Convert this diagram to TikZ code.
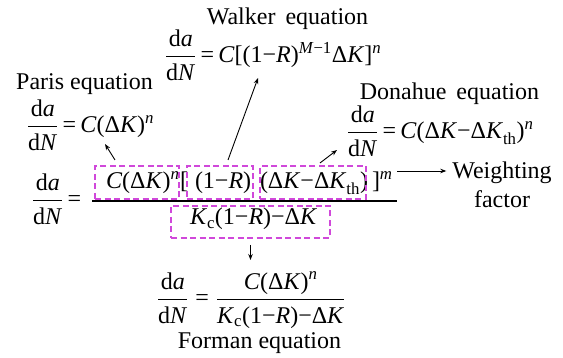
\documentclass[tikz,border=0pt]{standalone}
\usepackage{amsmath}
\usepackage{fontspec}
\setmainfont{Liberation Serif}
\usetikzlibrary{arrows.meta}
\definecolor{boxmag}{RGB}{208,72,218}
\newcommand{\ti}[1]{\textit{#1}}
\newcommand{\dadN}{\dfrac{\text{d\ti{a}}}{\text{d\ti{N}}}}
\newcommand{\eqs}{\mathrel{\text{=}}}
\begin{document}
\begin{tikzpicture}[x=1pt,y=-1pt,
 every node/.style={inner sep=0pt, outer sep=0pt, font=\fontsize{24}{29}\selectfont},
 txt/.style={anchor=base},
 eqn/.style={anchor=base west},
 dbox/.style={draw=boxmag, dash pattern=on 6pt off 3.5pt, line width=1.1pt, rectangle},
 arr/.style={-{Stealth[length=6pt,width=4.5pt]}, line width=0.9pt},
 ]
\useasboundingbox (0,0) rectangle (563,358);
% titles
\node[txt] (wt) at (287.5,25) {Walker\, equation};
\node[txt] (pt) at (84.5,90) {Paris equation};
\node[txt] (dt) at (449.5,100) {Donahue\, equation};
% side formulas
\node[eqn] (wf) at (165,63) {$\thickmuskip=3mu\dadN\eqs\text{\ti{C}[(1−\ti{R})}^{\text{\ti{M}−1}}\text{Δ\ti{K}]}^{\text{\ti{n}}}$};
\node[eqn] (pf) at (27,133) {$\thickmuskip=3mu\dadN\eqs\text{\ti{C}(Δ\ti{K})}^{\text{\ti{n}}}$};
\node[eqn] (df) at (347,139) {$\thickmuskip=3mu\dadN\eqs\text{\ti{C}(Δ\ti{K}−Δ\ti{K}}_{\text{th}}\text{)}^{\text{\ti{n}}}$};
% main formula
\node[eqn] (mf) at (32,207) {$\thickmuskip=3mu\dadN\eqs$};
\node[eqn] (n1) at (106,189) {$\text{\ti{C}(Δ\ti{K})}^{\text{\ti{n}}}$};
\node[eqn] (lb) at (180,189) {[};
\node[eqn] (n2) at (195,189) {(1−\ti{R})};
\node[eqn] (n3) at (260,189) {$\text{(Δ\ti{K}−Δ\ti{K}}_{\text{th}}\text{)}$};
\node[eqn] (rb) at (372,189) {$\text{]}^{\text{\ti{m}}}$};
\node[eqn] (den) at (190,225) {$\text{\ti{K}}_{\text{c}}\text{(1−\ti{R})−Δ\ti{K}}$};
\coordinate (barL) at (92,201);
\coordinate (barR) at (397,201);
\draw[line width=1.2pt] (barL) -- (barR);
% dashed boxes
\node[dbox, minimum width=84pt, minimum height=33pt] (b1) at (137,182.5) {};
\node[dbox, minimum width=66pt, minimum height=33pt] (b2) at (220,182.5) {};
\node[dbox, minimum width=106pt, minimum height=33pt] (b3) at (313,182.5) {};
\node[dbox, minimum width=159pt, minimum height=32pt] (bd) at (250.5,222) {};
% weighting factor
\node[txt] (w1) at (502,179) {Weighting};
\node[txt] (w2) at (502,208) {factor};
% Forman
\node[eqn] (ff) at (157,306) {$\thickmuskip=5mu\dadN\eqs\dfrac{\text{\ti{C}(Δ\ti{K})}^{\text{\ti{n}}}}{\text{\ti{K}}_{\text{c}}\text{(1−\ti{R})−Δ\ti{K}}}$};
\node[txt] (ft) at (259.5,349) {Forman equation};
% arrows
\coordinate (pa) at (105,144);
\coordinate (wa) at (258,78);
\coordinate (da) at (337,150);
\coordinate (ws) at (397,171);
\coordinate (fa) at (250.5,260);
\draw[arr] ([xshift=-22pt,yshift=6pt]b1.north) -- (pa);
\draw[arr] ([xshift=8pt,yshift=6pt]b2.north) -- (wa);
\draw[arr] ([xshift=7pt,yshift=3pt]b3.north) -- (da);
\draw[arr, shorten >=6pt] (ws) -- (w1.west |- ws);
\draw[arr] ([yshift=-7pt]bd.south) -- (fa);
\end{tikzpicture}
\end{document}
